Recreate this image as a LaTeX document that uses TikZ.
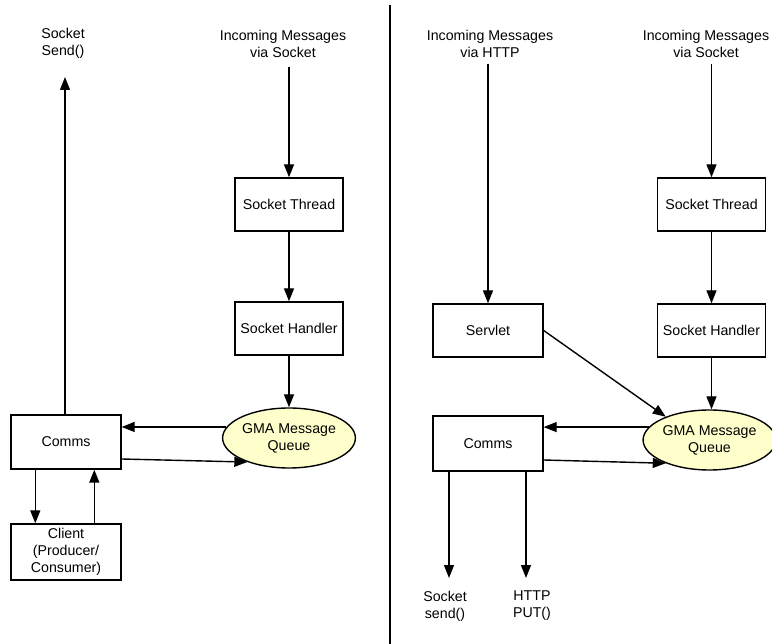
\documentclass[tikz,border=0pt]{standalone}
\usepackage{fontspec}
\setmainfont{Liberation Sans}
\usetikzlibrary{shapes.geometric,arrows.meta,calc}
\definecolor{queuefill}{RGB}{255,255,204}
\tikzset{
  base/.style={font=\fontsize{14.2}{17}\selectfont, align=center},
  box/.style={base, draw, line width=1.4pt, minimum width=108pt, minimum height=53pt, inner sep=0pt},
  queue/.style={base, ellipse, draw, line width=1.4pt, fill=queuefill, minimum width=124pt, minimum height=60pt, inner sep=0pt},
  lbl/.style={base, inner sep=0pt},
  arr/.style={line width=1.4pt, -{Triangle[length=13pt,width=10pt]}},
  plain/.style={line width=1.4pt}
}
\begin{document}
\begin{tikzpicture}[x=1pt,y=-1pt]
\useasboundingbox (0,0) rectangle (772,644);

% ---- left: socket only ----
\node[lbl] (sendL) at (63,43.5) {Socket\\Send()};
\node[lbl] (inL)   at (283,43.5) {Incoming Messages\\via Socket};
\node[box] (stL)  at (289,204.5) {Socket Thread};
\node[box] (shL)  at (289,328.5) {Socket Handler};
\node[queue] (qL) at (289,438) {GMA Message\\Queue};
\node[box, minimum width=110pt, minimum height=54pt] (cmL) at (66,442) {Comms};
\node[box, minimum width=110pt, minimum height=56pt] (cli) at (66,552) {Client\\(Producer/\\Consumer)};

\coordinate (sendTip) at (65,77);
\coordinate (inLtop)  at (289,67);

\draw[arr] (cmL.north -| sendTip) -- (sendTip);
\draw[arr] (inLtop) -- (stL.north);
\draw[arr] (stL.south) -- (shL.north);
\draw[arr] (shL.south) -- (qL.north);
\draw[arr] (qL.170) -- (qL.170 -| cmL.east);
\draw[arr] ($(cmL.east)+(0,17)$) -- (qL.210);
\draw[arr] ($(cmL.south west)+(25,0)$) -- ($(cli.north west)+(25,0)$);
\draw[arr] ($(cli.north west)+(84,0)$) -- ($(cmL.south west)+(84,0)$);

% ---- divider ----
\coordinate (divTop) at (390,5);
\coordinate (divBot) at (390,644);
\draw[plain] (divTop) -- (divBot);

% ---- right: HTTP and socket ----
\node[lbl] (inH)  at (490,43.5) {Incoming Messages\\via HTTP};
\node[lbl] (inR)  at (706,43.5) {Incoming Messages\\via Socket};
\node[box] (stR)  at (711.5,204.5) {Socket Thread};
\node[box] (shR)  at (711.5,330.5) {Socket Handler};
\node[box, minimum width=110pt] (srv) at (488,330.5) {Servlet};
\node[queue, minimum width=123pt] (qR) at (709.5,440) {GMA Message\\Queue};
\node[box, minimum width=110pt, minimum height=55pt] (cmR) at (488,443.5) {Comms};
\node[lbl] (sockOut) at (445,606) {Socket\\send()};
\node[lbl] (httpOut) at (532,606) {HTTP\\PUT()};

\coordinate (inHtop) at (488,64);
\coordinate (inRtop) at (711.5,64);
\coordinate (sockTip) at (449,578);
\coordinate (httpTip) at (526,578);

\draw[arr] (inHtop) -- (srv.north);
\draw[arr] (inRtop) -- (stR.north);
\draw[arr] (stR.south) -- (shR.north);
\draw[arr] (shR.south) -- (shR.south |- qR.north);
\draw[arr] (srv.east) -- (qR.152);
\draw[arr] (qR.168) -- (qR.168 -| cmR.east);
\draw[arr] ($(cmR.east)+(0,16.5)$) -- (qR.208);
\draw[arr] (cmR.south -| sockTip) -- (sockTip);
\draw[arr] (cmR.south -| httpTip) -- (httpTip);
\end{tikzpicture}
\end{document}
